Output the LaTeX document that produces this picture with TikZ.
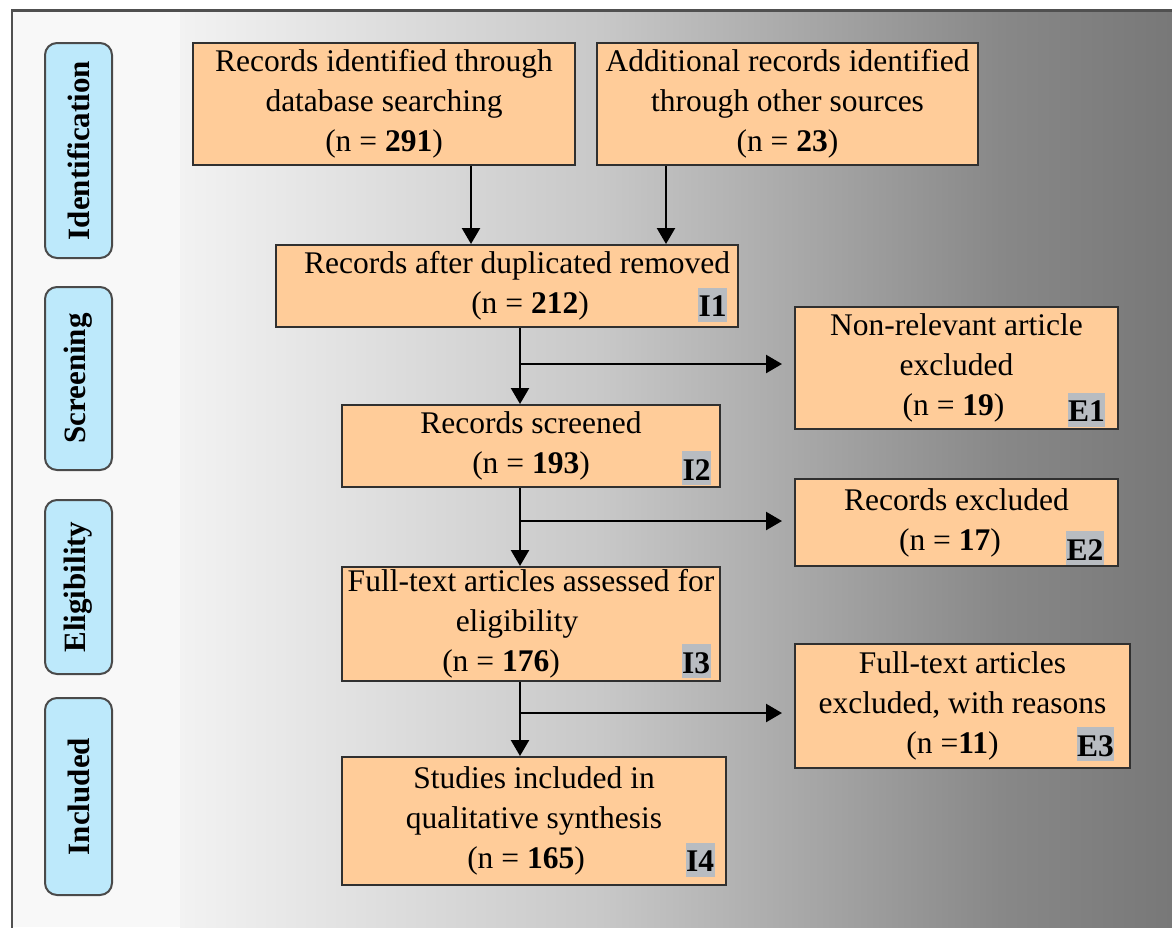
\documentclass[tikz,border=0pt]{standalone}
\usepackage{fontspec}
\setmainfont{Liberation Serif}
\usetikzlibrary{arrows.meta}
\definecolor{boxfill}{HTML}{FFCC99}
\definecolor{boxline}{HTML}{303030}
\definecolor{tabfill}{HTML}{BDE9FB}
\definecolor{tabline}{HTML}{4A4A4A}
\definecolor{tagfill}{HTML}{B8BCC1}
\definecolor{bgl}{HTML}{F8F8F8}
\definecolor{ga}{HTML}{F2F2F2}
\definecolor{gb}{HTML}{C8C8C8}
\definecolor{gc}{HTML}{888888}
\definecolor{gd}{HTML}{787878}
\definecolor{framec}{HTML}{505050}
\begin{document}
\begin{tikzpicture}[x=1pt,y=-1pt,
  stepbox/.style={draw=boxline, fill=boxfill, line width=2pt, inner sep=0pt, align=center,
    font=\fontsize{31.5}{40}\selectfont},
  phase/.style={draw=tabline, fill=tabfill, line width=2pt, rounded corners=12pt, inner sep=0pt,
    rotate=90, font=\bfseries\fontsize{31}{40}\selectfont},
  tag/.style={fill=tagfill, inner xsep=0.5pt, inner ysep=0pt, text height=29pt, text depth=5pt,
    font=\bfseries\fontsize{31.5}{40}\selectfont},
  arr/.style={draw=black, line width=2.4pt, -{Triangle[width=18pt,length=16pt]}}
]
\useasboundingbox (0,0) rectangle (1172,927);
\clip (0,0) rectangle (1172,927);
% background
\fill[white] (0,0) rectangle (1172,927);
\fill[bgl] (12,10) rectangle (181,927);
\shade[left color=ga, right color=gb] (180,10) rectangle (601,927);
\shade[left color=gb, right color=gc] (600,10) rectangle (1001,927);
\shade[left color=gc, right color=gd] (1000,10) rectangle (1172,927);
\draw[framec, line width=2.2pt] (12,935) -- (12,10.5) -- (1180,10.5);

% phase tabs
\node[phase, minimum width=215, minimum height=67] (p1) at (78.5,150.5) {Identification};
\node[phase, minimum width=183, minimum height=67] (p2) at (78.5,378.5) {Screening};
\node[phase, minimum width=174, minimum height=67] (p3) at (78.5,587) {Eligibility};
\node[phase, minimum width=197, minimum height=67] (p4) at (78.5,796.5) {Included};

% boxes
\node[stepbox, minimum width=382, minimum height=122] (a) at (384,104)
  {Records identified through\\database searching\\(n = \textbf{291})};
\node[stepbox, minimum width=381, minimum height=122] (b) at (787.5,104)
  {Additional records identified\\through other sources\\(n = \textbf{23})};
\node[stepbox, minimum width=462, minimum height=82] (i1) at (507,286)
  {\rule{20pt}{0pt}Records after duplicated removed\\\rule{46pt}{0pt}(n = \textbf{212})};
\node[stepbox, minimum width=323, minimum height=122] (e1) at (956.5,368)
  {Non-relevant article\\excluded\\(n = \textbf{19})\rule{6pt}{0pt}};
\node[stepbox, minimum width=378, minimum height=82] (i2) at (531,446)
  {Records screened\\(n = \textbf{193})};
\node[stepbox, minimum width=323, minimum height=87] (e2) at (956.5,522.5)
  {Records excluded\\(n = \textbf{17})\rule{13pt}{0pt}};
\node[stepbox, minimum width=378, minimum height=114] (i3) at (531,624)
  {Full-text articles assessed for\\eligibility\rule{28pt}{0pt}\\(n = \textbf{176})\rule{60pt}{0pt}};
\node[stepbox, minimum width=335, minimum height=124] (e3) at (962.5,706)
  {Full-text articles\\excluded, with reasons\\(n =\textbf{11})\rule{20pt}{0pt}};
\node[stepbox, minimum width=384, minimum height=128] (i4) at (534,821)
  {Studies included in\\qualitative synthesis\\(n = \textbf{165})\rule{16pt}{0pt}};

% tags
\node[tag] (t1) at (712.5,304.5) {I1};
\node[tag] (t2) at (696.5,468) {I2};
\node[tag] (t3) at (696,661) {I3};
\node[tag] (t4) at (700,859.5) {I4};
\node[tag] (u1) at (1086.5,409.5) {E1};
\node[tag] (u2) at (1085,548) {E2};
\node[tag] (u3) at (1095.5,744) {E3};

% connectors
\coordinate (ax) at (471,0);
\coordinate (bx) at (666,0);
\coordinate (spine) at (520,0);
\coordinate (b1) at (520,364);
\coordinate (b2) at (520,521);
\coordinate (b3) at (520,713);
\draw[arr] (a.south -| ax) -- (i1.north -| ax);
\draw[arr] (b.south -| bx) -- (i1.north -| bx);
\draw[arr] (i1.south -| spine) -- (i2.north -| spine);
\draw[arr] (i2.south -| spine) -- (i3.north -| spine);
\draw[arr] (i3.south -| spine) -- (i4.north -| spine);
\draw[arr, shorten >=12pt] (b1) -- (b1 -| e1.west);
\draw[arr, shorten >=12pt] (b2) -- (b2 -| e2.west);
\draw[arr, shorten >=12pt] (b3) -- (b3 -| e3.west);
\end{tikzpicture}
\end{document}
